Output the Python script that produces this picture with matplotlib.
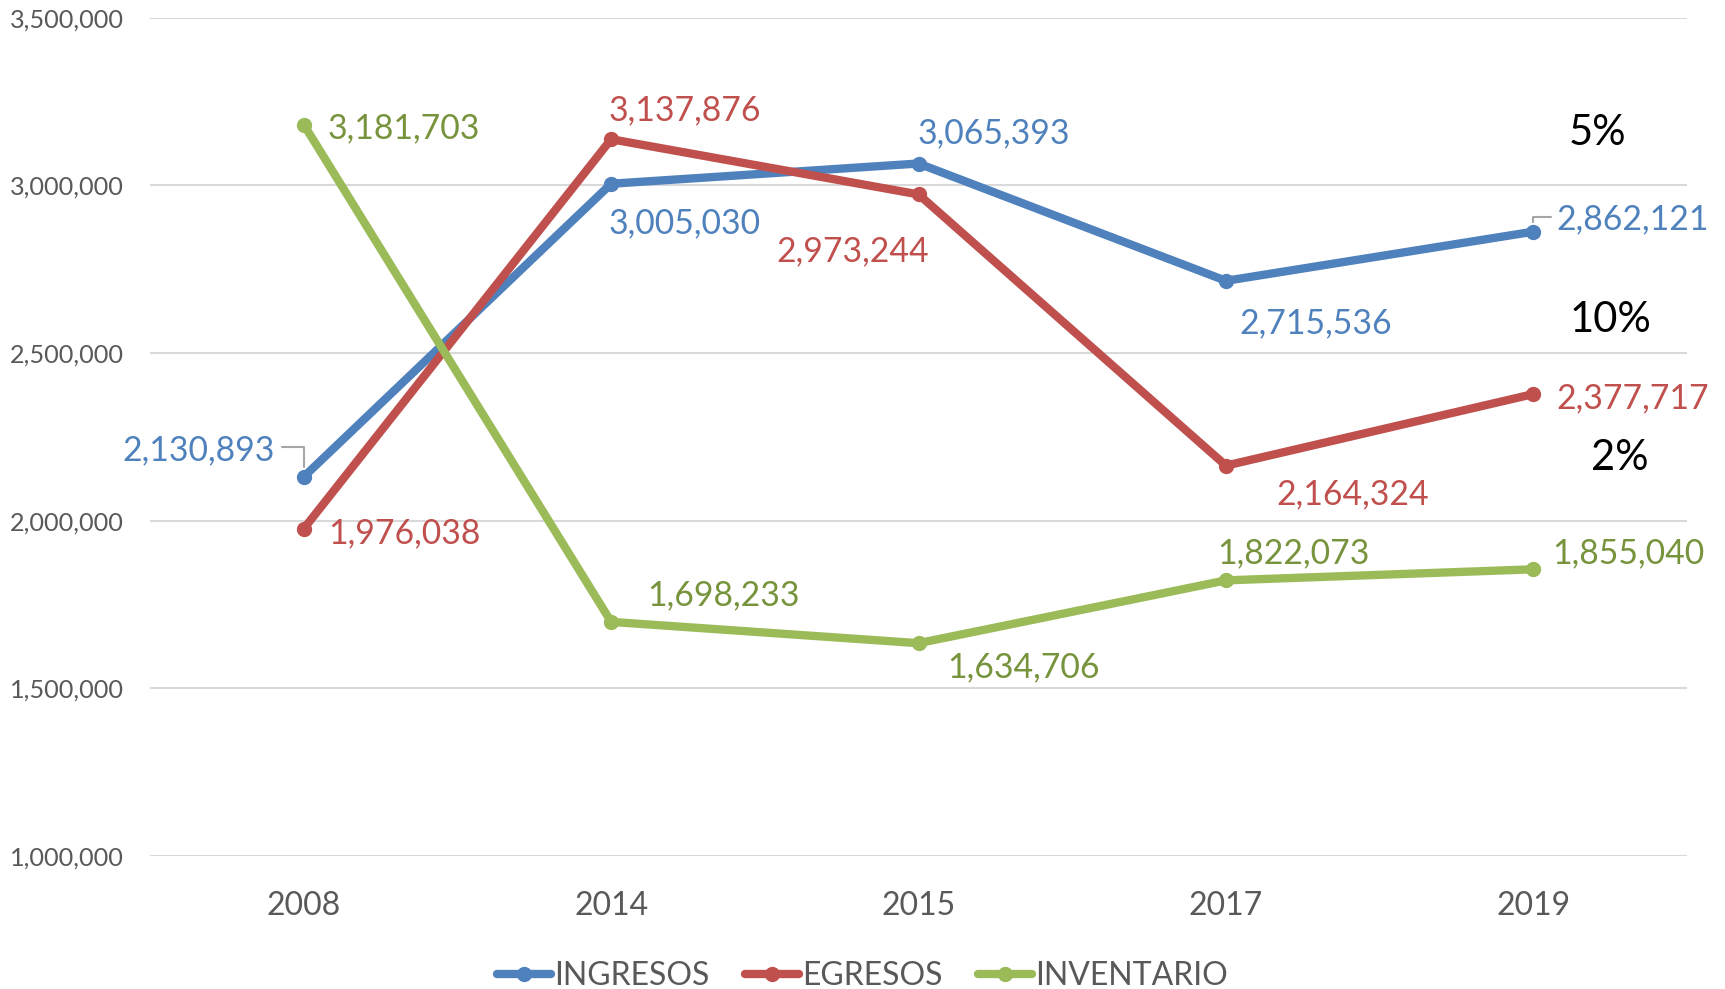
import matplotlib.pyplot as plt
import numpy as np

plt.rcParams['font.family'] = ['Lato', 'DejaVu Sans']

# data
years = ['2008', '2014', '2015', '2017', '2019']
ingresos = [2130893, 3005030, 3065393, 2715536, 2862121]
egresos = [1976038, 3137876, 2973244, 2164324, 2377717]
inventario = [3181703, 1698233, 1634706, 1822073, 1855040]
pct_labels = ['5%', '10%', '2%']

colors = {'INGRESOS': '#4F81BD', 'EGRESOS': '#C0504D', 'INVENTARIO': '#9BBB59'}
text_colors = {'INGRESOS': '#4F81BD', 'EGRESOS': '#C0504D', 'INVENTARIO': '#77933C'}

# label offsets in pixels (dx, dy, ha) - layout only
offsets = {
    'INGRESOS': [(-29, 27, 'right'), (-3, -40, 'left'), (-1, 30, 'left'), (13, -42, 'left'), (23, 12, 'left')],
    'EGRESOS': [(24, -5, 'left'), (-3, 29, 'left'), (10, -57, 'right'), (50, -29, 'left'), (23, -4, 'left')],
    'INVENTARIO': [(24, -4, 'left'), (36, 27, 'left'), (29, -24, 'left'), (-9, 27, 'left'), (19, 16, 'left')],
}

fig = plt.figure(figsize=(17.25, 9.89), dpi=100)
ax = fig.add_axes([0.087, 0.1345, 0.891, 0.8475])

x = np.arange(len(years))
series = [('INGRESOS', ingresos), ('EGRESOS', egresos), ('INVENTARIO', inventario)]
for name, vals in series:
    ax.plot(x, vals, color=colors[name], lw=6, marker='o', ms=10,
            solid_capstyle='round', label=name, zorder=3)
    for i, v in enumerate(vals):
        dx, dy, ha = offsets[name][i]
        ax.annotate(f'{v:,}', (x[i], v), xytext=(dx, dy), textcoords='offset pixels',
                    ha=ha, va='center', fontsize=24.3, color=text_colors[name])

# leader lines for blue labels
ax.annotate('', (0, ingresos[0]), xytext=(-22, 30), textcoords='offset pixels',
            arrowprops=dict(arrowstyle='-', color='#A6A6A6', lw=1.5,
                            connectionstyle='angle,angleA=0,angleB=90,rad=0',
                            shrinkA=0, shrinkB=7))
ax.annotate('', (4, ingresos[4]), xytext=(18, 15), textcoords='offset pixels',
            arrowprops=dict(arrowstyle='-', color='#A6A6A6', lw=1.5,
                            connectionstyle='angle,angleA=0,angleB=90,rad=0',
                            shrinkA=0, shrinkB=7))

# percentage notes
ax.text(4.21, 3155000, pct_labels[0], fontsize=30, ha='center', va='center', color='black')
ax.text(4.25, 2600000, pct_labels[1], fontsize=30, ha='center', va='center', color='black')
ax.text(4.28, 2188000, pct_labels[2], fontsize=30, ha='center', va='center', color='black')

ax.set_xlim(-0.5, 4.5)
ax.set_ylim(1000000, 3500000)
ax.set_yticks(np.arange(1000000, 3500001, 500000))
ax.yaxis.set_major_formatter(plt.FuncFormatter(lambda v, p: f'{int(v):,}'))
ax.set_xticks(x)
ax.set_xticklabels(years)
ax.tick_params(axis='y', length=0, pad=19, labelsize=18.2, labelcolor='#595959')
ax.tick_params(axis='x', length=0, pad=25, labelsize=23, labelcolor='#595959')
ax.grid(axis='y', color='#D9D9D9', lw=1.5)
ax.set_axisbelow(True)
for s in ax.spines.values():
    s.set_visible(False)

fig.legend(loc='center', bbox_to_anchor=(0.5, 0.013), ncol=3, frameon=False,
           fontsize=23, labelcolor='#595959', handlelength=1.7, handletextpad=0.1,
           columnspacing=1.1)

fig.savefig('out.png', dpi=100)
